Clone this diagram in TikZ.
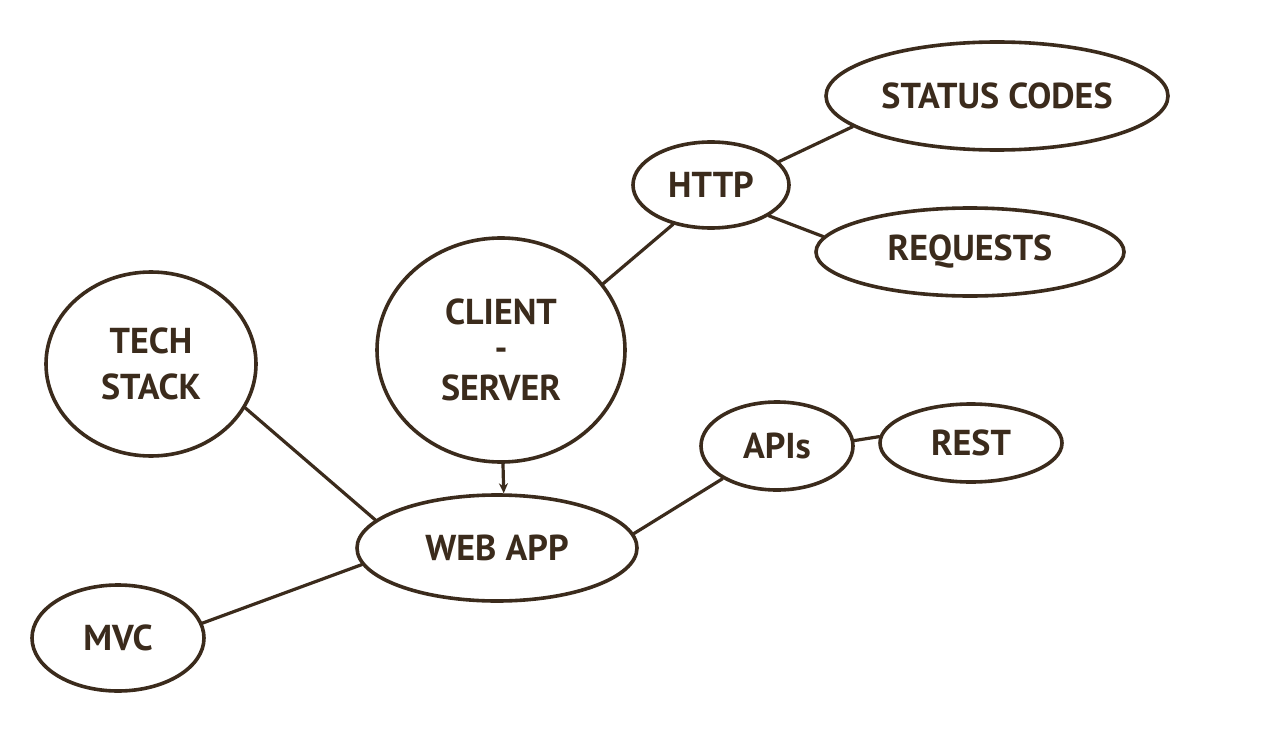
\documentclass[tikz,border=0pt]{standalone}
\usepackage{fontspec}
\setmainfont{PT Sans}
\usetikzlibrary{shapes.geometric,arrows.meta}
\definecolor{ink}{HTML}{3B2B1C}
\tikzset{
  bubble/.style={ellipse, draw=ink, line width=3.6pt, inner sep=0pt, text=ink,
    font=\fontsize{36}{46}\selectfont\bfseries, align=center},
  link/.style={draw=ink, line width=3.2pt, line cap=round},
}
\begin{document}
\begin{tikzpicture}[x=1pt,y=-1pt]
\useasboundingbox[fill=white] (0,0) rectangle (1279,749);
\node[bubble, minimum width=342, minimum height=108] (status) at (997,96) {STATUS CODES};
\node[bubble, minimum width=156, minimum height=86] (http) at (711,185) {HTTP};
\node[bubble, minimum width=308, minimum height=88] (req) at (970,252) {REQUESTS};
\node[bubble, minimum width=248, minimum height=224] (cs) at (501,350) {CLIENT\\[-10pt]-\\[-6pt]SERVER};
\node[bubble, minimum width=210, minimum height=184] (tech) at (151,364) {TECH\\STACK};
\node[bubble, minimum width=152, minimum height=88] (apis) at (777,446) {APIs};
\node[bubble, minimum width=182, minimum height=78] (rest) at (971,443) {REST};
\node[bubble, minimum width=280, minimum height=106] (web) at (497,548) {WEB APP};
\node[bubble, minimum width=172, minimum height=106] (mvc) at (118,638) {MVC};
\draw[link] (http.19) -- (status.192);
\draw[link] (http.-28) -- (req.174);
\draw[link] (http.226) -- (cs.33);
\draw[link, -{Stealth[length=10pt,width=9pt]}] (cs.-89) -- (web.83.5);
\draw[link] (tech.-25) -- (web.167);
\draw[link] (web.-173) -- (mvc.10);
\draw[link] (web.6) -- (apis.211);
\draw[link] (apis.4) -- (rest.176);
\end{tikzpicture}
\end{document}
